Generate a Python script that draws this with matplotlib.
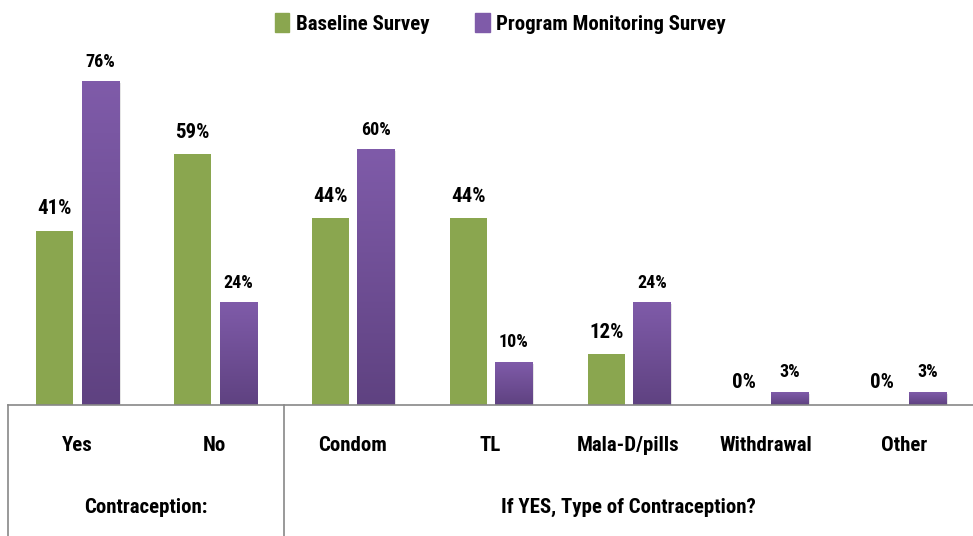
import numpy as np
import matplotlib
matplotlib.use("Agg")
import matplotlib.pyplot as plt
from matplotlib import font_manager
from matplotlib.colors import LinearSegmentedColormap
from matplotlib.patches import Patch

# pick a narrow bold face if one is around
names = {f.name for f in font_manager.fontManager.ttflist}
narrow = sorted(n for n in names if 'Narrow' in n or 'Condensed' in n)
FONT = None
for cand in ['Liberation Sans Narrow', 'DejaVu Sans Condensed', 'Roboto Condensed',
             'Open Sans Condensed'] + narrow:
    if cand in names:
        FONT = cand
        break
if FONT is None:
    FONT = 'Lato'
    scale = 0.85
else:
    scale = 1.0

plt.rcParams['font.family'] = [FONT, 'DejaVu Sans']
plt.rcParams['font.weight'] = 'bold'

categories = ['Yes', 'No', 'Condom', 'TL', 'Mala-D/pills', 'Withdrawal', 'Other']
groups = ['Contraception:', 'If YES, Type of Contraception?']
group_sizes = [2, 5]
baseline = [41, 59, 44, 44, 12, 0, 0]
monitoring = [76, 24, 60, 10, 24, 3, 3]
series_names = ['Baseline Survey', 'Program Monitoring Survey']

green = '#8aa64f'
purple_top = '#7f5ba9'
purple_bot = '#5f4281'

big = 15 * scale
small = 13 * scale

fig = plt.figure(figsize=(9.73, 5.36), dpi=100)
ax = fig.add_axes([8 / 973, 131 / 536, 965 / 973, 360 / 536])

x = np.arange(len(categories))
w = 0.27
off_g, off_p = -0.16, 0.17

ax.bar(x + off_g, baseline, w, color=green, zorder=2)

cmap = LinearSegmentedColormap.from_list('pm', [purple_bot, purple_top])
grad = np.linspace(0, 1, 100).reshape(-1, 1)
for xi, v in zip(x, monitoring):
    ax.bar(xi + off_p + 0.012, v, w, bottom=-0.3, color='#cccccc', alpha=0.5, zorder=1)
    ax.imshow(grad, cmap=cmap, origin='lower', aspect='auto', zorder=2,
              extent=(xi + off_p - w / 2, xi + off_p + w / 2, 0, v))

for xi, v in zip(x, baseline):
    ax.annotate(f'{v}%', (xi + off_g, v), xytext=(0, 9), textcoords='offset points',
                ha='center', va='bottom', fontsize=big, fontweight='bold')
for xi, v in zip(x, monitoring):
    ax.annotate(f'{v}%', (xi + off_p, v), xytext=(0, 8), textcoords='offset points',
                ha='center', va='bottom', fontsize=small, fontweight='bold')

ax.set_xlim(-0.5, len(categories) - 0.5)
ax.set_ylim(0, 360 / 4.25)
for s in ['top', 'right', 'left']:
    ax.spines[s].set_visible(False)
ax.spines['bottom'].set_color('#888888')
ax.spines['bottom'].set_linewidth(1.2)
ax.set_yticks([])
ax.set_xticks(x)
ax.set_xticklabels(categories, fontsize=big, fontweight='bold')
ax.tick_params(axis='x', length=0, pad=22)

# group labels and separators
trans = ax.get_xaxis_transform()
start = 0
for g, n in zip(groups, group_sizes):
    mid = start + (n - 1) / 2
    ax.annotate(g, (mid, 0), xycoords=trans, xytext=(0, -74), textcoords='offset points',
                ha='center', va='center', fontsize=big, fontweight='bold')
    ax.plot([start - 0.5, start - 0.5], [0, -0.37], transform=trans, color='#888888',
            lw=1.2, clip_on=False)
    start += n

handles = [Patch(color=green), Patch(color=purple_top)]
fig.legend(handles, series_names, loc='upper center', bbox_to_anchor=(0.514, 1.01), ncol=2,
           frameon=False, handlelength=0.7, handleheight=1.0,
           handletextpad=0.3, columnspacing=2.2, prop={'weight': 'bold', 'size': big})

fig.savefig('out.png', dpi=100)
